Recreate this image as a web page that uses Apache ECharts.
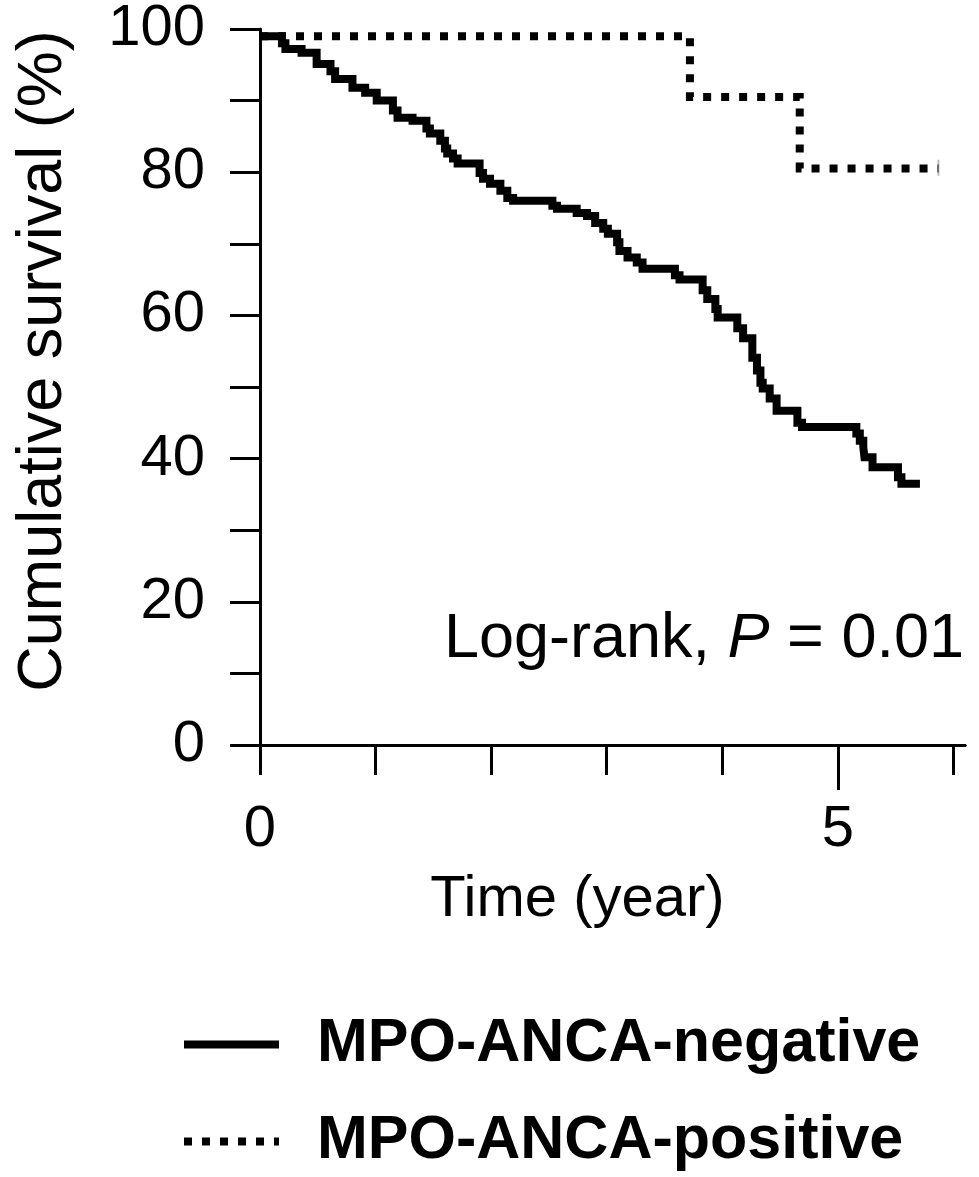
<!DOCTYPE html>
<html>
<head>
<meta charset="utf-8">
<script src="https://cdn.jsdelivr.net/npm/echarts@6/dist/echarts.min.js"></script>
<style>
html,body{margin:0;padding:0;background:#fff}
#chart{width:979px;height:1177px}
</style>
</head>
<body>
<div id="chart"></div>
<script>
// MPO-ANCA-negative, step points (years, %)
var negTime = [0, 0.19, 0.22, 0.36, 0.49, 0.61, 0.65, 0.80, 0.91, 1.01, 1.15, 1.19, 1.32, 1.44, 1.47, 1.56, 1.60, 1.62, 1.67, 1.71,
	1.90, 1.93, 1.99, 2.08, 2.14, 2.19, 2.53, 2.57, 2.74, 2.83, 2.90, 2.97, 3.01, 3.09, 3.11, 3.18, 3.26, 3.31, 3.59, 3.63,
	3.83, 3.87, 3.94, 3.96, 4.13, 4.18, 4.26, 4.30, 4.33, 4.35, 4.41, 4.47, 4.65, 4.69, 5.16, 5.19, 5.22, 5.23, 5.30, 5.52, 5.55, 5.71];
var negSurv = [99.0, 98.0, 97.2, 96.7, 95.1, 94.1, 93.0, 91.8, 91.1, 90.0, 88.6, 87.6, 87.2, 86.1, 85.4, 84.4, 83.3, 82.6, 81.9, 81.2,
	79.9, 79.1, 78.4, 77.4, 76.4, 76.0, 75.3, 74.9, 74.3, 73.9, 72.9, 72.1, 71.4, 70.2, 69.0, 68.1, 67.4, 66.5, 65.6, 65.0,
	63.5, 62.3, 60.9, 59.7, 58.2, 56.8, 54.1, 52.3, 50.6, 49.8, 48.4, 46.7, 45.0, 44.4, 43.5, 42.5, 41.6, 40.2, 38.8, 37.4, 36.5, 36.5];
// MPO-ANCA-positive
var posTime = [0, 3.72, 4.67, 5.87];
var posSurv = [99.0, 90.5, 80.5, 80.5];
var posCensor = [[5.87, 80.5]];

var xTicks = [0, 1, 2, 3, 4, 6];
var xLabels = [0, 5];
var xLongTick = [5];
var yLabels = [0, 20, 40, 60, 80, 100];
var seriesNames = ['MPO-ANCA-negative', 'MPO-ANCA-positive'];

function pairs(t, s){
	var out = [];
	for (var i = 0; i < t.length; i++) out.push([t[i], s[i]]);
	return out;
}

var font = 'Liberation Sans, Arial, sans-serif';
var gridPos = { left: 260, top: 28, width: 705, height: 717 };
// 图例公共样式
function legendItem(name, top){
	return {
		orient: 'vertical',
		left: 180,
		top: top,
		padding: 0,
		itemWidth: 95,
		itemHeight: 10,
		data: [name],
		itemStyle: { opacity: 0 },
		lineStyle: { width: 8 },
		textStyle: { fontSize: 61, lineHeight: 61, fontWeight: 'bold', color: '#000', fontFamily: font, padding: [0, 0, 0, 33] }
	};
}

var myChart = echarts.init(document.getElementById('chart'));
myChart.setOption({
	animation: false,
	backgroundColor: '#fff',
	grid: [gridPos, gridPos],
	title: {
		right: 10,
		top: 603,
		text: '{a|Log-rank, }{p|P}{a| = 0.01}',
		textStyle: {
			rich: {
				a: { fontSize: 63, lineHeight: 63, color: '#000', fontFamily: font, fontWeight: 'normal' },
				p: { fontSize: 63, lineHeight: 63, color: '#000', fontFamily: font, fontWeight: 'normal', fontStyle: 'italic' }
			}
		}
	},
	legend: [legendItem(seriesNames[0], 1014), legendItem(seriesNames[1], 1111)],
	xAxis: [{
		type: 'value',
		gridIndex: 0,
		min: 0,
		max: 6.1,
		interval: 1,
		name: 'Time (year)',
		nameLocation: 'middle',
		nameGap: 126,
		nameTextStyle: { fontSize: 58, color: '#000', fontFamily: font, padding: [0, 70, 0, 0] },
		axisLine: { show: true, onZero: false, lineStyle: { color: '#000', width: 3 } },
		axisTick: { show: true, customValues: xTicks, length: 30, lineStyle: { color: '#000', width: 3 } },
		axisLabel: { customValues: xLabels, fontSize: 58, color: '#000', fontFamily: font, margin: 56 },
		splitLine: { show: false }
	}, {
		// 5年处的长刻度
		type: 'value',
		gridIndex: 1,
		min: 0,
		max: 6.1,
		interval: 1,
		axisLine: { show: true, onZero: false, lineStyle: { color: '#000', width: 3 } },
		axisTick: { show: true, customValues: xLongTick, length: 45, lineStyle: { color: '#000', width: 3 } },
		axisLabel: { show: false },
		splitLine: { show: false }
	}],
	yAxis: [{
		type: 'value',
		gridIndex: 0,
		min: 0,
		max: 100,
		interval: 10,
		name: 'Cumulative survival (%)',
		nameLocation: 'middle',
		nameGap: 185,
		nameTextStyle: { fontSize: 63, color: '#000', fontFamily: font, padding: [0, 0, 0, 52] },
		axisLine: { show: true, lineStyle: { color: '#000', width: 3 } },
		axisTick: { show: true, length: 30, lineStyle: { color: '#000', width: 3 } },
		axisLabel: { customValues: yLabels, fontSize: 58, color: '#000', fontFamily: font, margin: 55 },
		splitLine: { show: false }
	}, {
		type: 'value',
		gridIndex: 1,
		min: 0,
		max: 100,
		show: false
	}],
	series: [{
		name: seriesNames[0],
		type: 'line',
		step: 'end',
		symbol: 'none',
		data: pairs(negTime, negSurv),
		lineStyle: { color: '#000', width: 8, join: 'miter', cap: 'butt' },
		itemStyle: { color: '#000' }
	}, {
		name: seriesNames[1],
		type: 'line',
		step: 'end',
		symbol: 'none',
		data: pairs(posTime, posSurv),
		lineStyle: { color: '#000', width: 8, type: [8, 10], join: 'miter', cap: 'butt' },
		itemStyle: { color: '#000' }
	}, {
		name: 'censor',
		type: 'scatter',
		xAxisIndex: 1,
		yAxisIndex: 1,
		symbol: 'rect',
		symbolSize: [2, 16],
		data: posCensor,
		itemStyle: { color: '#aaa' },
		silent: true
	}]
});
</script>
</body>
</html>
